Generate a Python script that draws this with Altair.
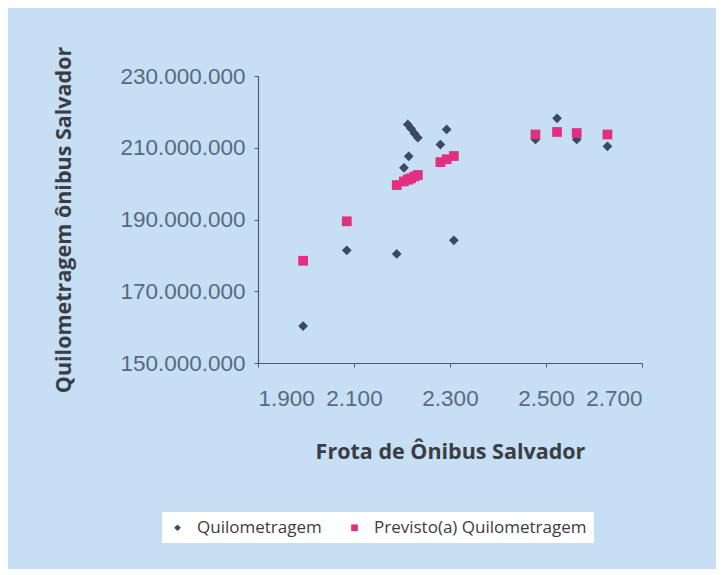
import altair as alt
import pandas as pd

frota = [1994, 2085, 2189, 2204, 2212, 2214, 2219, 2226, 2233, 2280, 2293, 2308, 2478, 2523, 2564, 2628]
quilometragem_mi = [160.3, 181.4, 180.4, 204.4, 216.5, 207.6, 215.3, 214.0, 212.8, 210.9, 215.1, 184.2, 212.3, 218.2, 212.3, 210.4]
previsto_mi = [178.5, 189.5, 199.6, 200.6, 201.1, 201.2, 201.5, 202.0, 202.4, 206.0, 206.8, 207.7, 213.7, 214.4, 214.1, 213.7]

series = ["Quilometragem", "Previsto(a) Quilometragem"]
x_ticks = [1900, 2100, 2300, 2500, 2700]
y_ticks = [150e6, 170e6, 190e6, 210e6, 230e6]

rows = []
for f, q in zip(frota, quilometragem_mi):
    rows.append({"frota": f, "km": q * 1e6, "serie": series[0], "ordem": 0})
for f, p in zip(frota, previsto_mi):
    rows.append({"frota": f, "km": p * 1e6, "serie": series[1], "ordem": 1})
df = pd.DataFrame(rows)

label_font = "Liberation Sans"
title_font = "Open Sans"

chart = alt.Chart(df).mark_point(filled=True, opacity=1, size=95).encode(
    x=alt.X("frota:Q",
            scale=alt.Scale(domain=[1900, 2700], nice=False, zero=False),
            axis=alt.Axis(values=x_ticks, title="Frota de Ônibus Salvador",
                          labelExpr="replace(format(datum.value, ','), ',', '.')",
                          labelPadding=20, titlePadding=32)),
    y=alt.Y("km:Q",
            scale=alt.Scale(domain=[150e6, 230e6], nice=False, zero=False),
            axis=alt.Axis(values=y_ticks, title="Quilometragem ônibus Salvador",
                          labelExpr="replace(format(datum.value, ','), regexp(',', 'g'), '.')",
                          labelPadding=9, titlePadding=44)),
    shape=alt.Shape("serie:N", scale=alt.Scale(domain=series, range=["diamond", "square"]),
                    legend=alt.Legend(title=None)),
    color=alt.Color("serie:N", scale=alt.Scale(domain=series, range=["#3b4866", "#e2307f"]),
                    legend=alt.Legend(title=None)),
    order=alt.Order("ordem:Q"),
).properties(
    width=384, height=287,
    padding={"left": 250, "top": 68, "right": 74, "bottom": 206},
    autosize=alt.AutoSizeParams(type="none"),
).configure(
    background="#c6dff4",
).configure_view(
    stroke=None,
).configure_axis(
    grid=False,
    domainColor="#4d5a6e",
    domainWidth=1.2,
    tickColor="#4d5a6e",
    tickSize=4,
    labelFont=label_font,
    labelFontSize=22.5,
    labelColor="#5a6a7e",
    titleFont=title_font,
    titleFontSize=21.5,
    titleFontWeight="bold",
    titleColor="#3a3d44",
).configure_legend(
    orient="none",
    legendX=-96,
    legendY=436,
    direction="horizontal",
    fillColor="white",
    padding=7,
    labelFont=title_font,
    labelFontSize=17,
    labelColor="#3a3d44",
    labelLimit=0,
    labelOffset=11,
    symbolSize=45,
    columnPadding=24,
    symbolOffset=0,
)

chart.save("out.html", embed_options={"renderer": "svg", "actions": False})
